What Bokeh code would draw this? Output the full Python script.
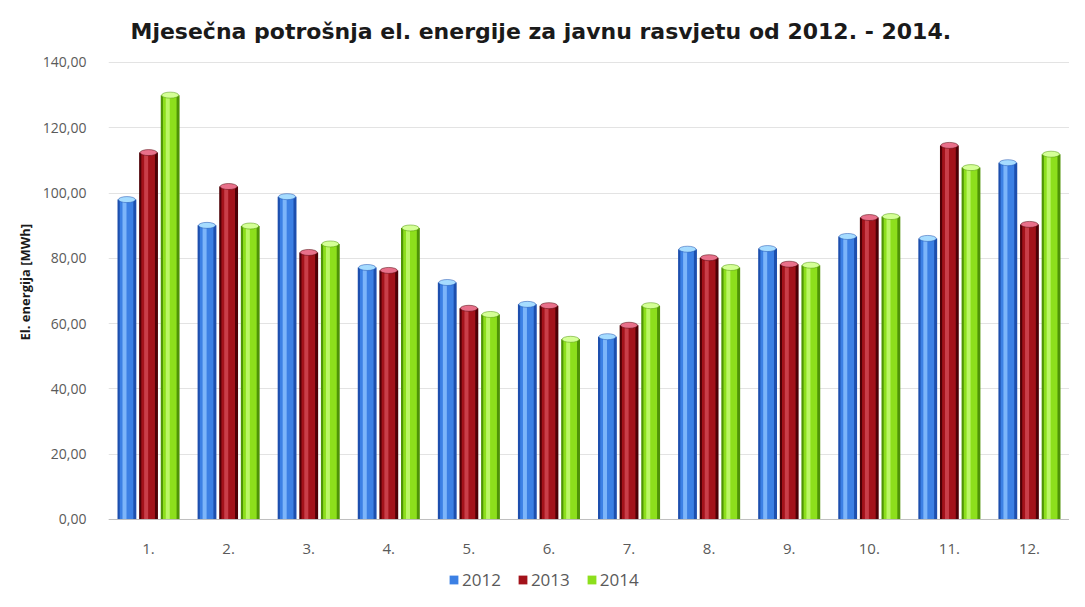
from bokeh.plotting import figure
from bokeh.models import ColumnDataSource, FactorRange, Range1d, Legend, LegendItem, CustomJSTickFormatter, FixedTicker, Title, Span
from bokeh.transform import dodge
from bokeh.embed import file_html
from bokeh.resources import INLINE
from bokeh.core.properties import value

months = ["1.", "2.", "3.", "4.", "5.", "6.", "7.", "8.", "9.", "10.", "11.", "12."]
s2012 = [98.0, 90.1, 98.9, 77.2, 72.6, 65.9, 56.0, 82.8, 83.0, 86.7, 86.1, 109.3]
s2013 = [112.4, 102.0, 81.8, 76.3, 64.7, 65.5, 59.5, 80.2, 78.2, 92.5, 114.6, 90.4]
s2014 = [130.0, 89.9, 84.4, 89.3, 62.8, 55.2, 65.5, 77.2, 77.9, 92.8, 107.8, 111.9]
years = ["2012", "2013", "2014"]
yticks = [0, 20, 40, 60, 80, 100, 120, 140]

src = ColumnDataSource(dict(m=months, a=s2012, b=s2013, c=s2014, z=[0] * len(months)))

FONT = "Open Sans"
p = figure(width=1069, height=591, x_range=FactorRange(*months, range_padding=0),
           y_range=Range1d(-22.06, 142.14), output_backend="svg", toolbar_location=None,
           x_axis_location=None,
           min_border_left=108, min_border_right=0, min_border_top=55, min_border_bottom=0)
p.outline_line_color = None
p.background_fill_color = "white"

t = Title(text="Mjesečna potrošnja el. energije za javnu rasvjetu od 2012. - 2014.",
          align="left", text_font="DejaVu Sans", text_font_size="22px", text_font_style="bold",
          text_color="#1a1a1a", offset=22, standoff=24)
p.add_layout(t, "above")

p.add_layout(Span(location=0, dimension="width", line_color="#bfbfbf", line_width=1))

styles = [
    ("a", -0.27, "#1d4fae", "#3c80e4", "#8cc2ff", "#a6dcff"),
    ("b", 0.0, "#4e0006", "#a3121a", "#d24a55", "#e8708a"),
    ("c", 0.27, "#4f9406", "#8ddf1c", "#c6fb78", "#d4ff96"),
]
items = []
for (col, off, edge, main, hi, cap), yr in zip(styles, years):
    x = dodge("m", off, range=p.x_range)
    p.vbar(x=x, top=col, width=0.235, source=src, fill_color=edge, line_color=None)
    r = p.vbar(x=dodge("m", off - 0.005, range=p.x_range), top=col, width=0.17, source=src,
               fill_color=main, line_color=None)
    p.vbar(x=dodge("m", off - 0.03, range=p.x_range), top=col, width=0.05, source=src,
           fill_color=hi, line_color=None, fill_alpha=0.8)
    p.ellipse(x=x, y=col, width=17, height=6, width_units="screen", height_units="screen",
              source=src, fill_color=cap, line_color=edge, line_width=0.5)
    items.append(LegendItem(label=yr, renderers=[r]))

# category labels under the baseline
p.text(x="m", y="z", text="m", source=src, y_offset=30, text_align="center",
       text_baseline="middle", text_font=value(FONT), text_font_size="15px",
       text_color="#5a5a5a")

p.yaxis.ticker = FixedTicker(ticks=yticks)
p.yaxis.formatter = CustomJSTickFormatter(code="return tick.toFixed(2).replace('.', ',');")
p.yaxis.axis_line_color = None
p.yaxis.major_tick_line_color = None
p.yaxis.minor_tick_line_color = None
p.yaxis.major_label_text_font = FONT
p.yaxis.major_label_text_font_size = "14px"
p.yaxis.major_label_text_color = "#5a5a5a"
p.yaxis.major_label_standoff = 16

ylab = Title(text="El. energija [MWh]", align="left", offset=251, standoff=12,
             text_font=FONT, text_font_size="13px", text_font_style="bold",
             text_color="#1a1a1a")
p.add_layout(ylab, "left")

p.xgrid.grid_line_color = None
p.ygrid.grid_line_color = "#e3e3e3"
p.ygrid.grid_line_width = 1

legend = Legend(items=items, orientation="horizontal", location=(340, 0),
                label_text_font=FONT, label_text_font_size="17px", label_text_color="#5a5a5a",
                glyph_width=11, glyph_height=11, spacing=16, label_standoff=3,
                border_line_color=None, background_fill_alpha=0, padding=0, margin=0)
p.add_layout(legend, "center")

open("out.html", "w").write(file_html(p, INLINE))
